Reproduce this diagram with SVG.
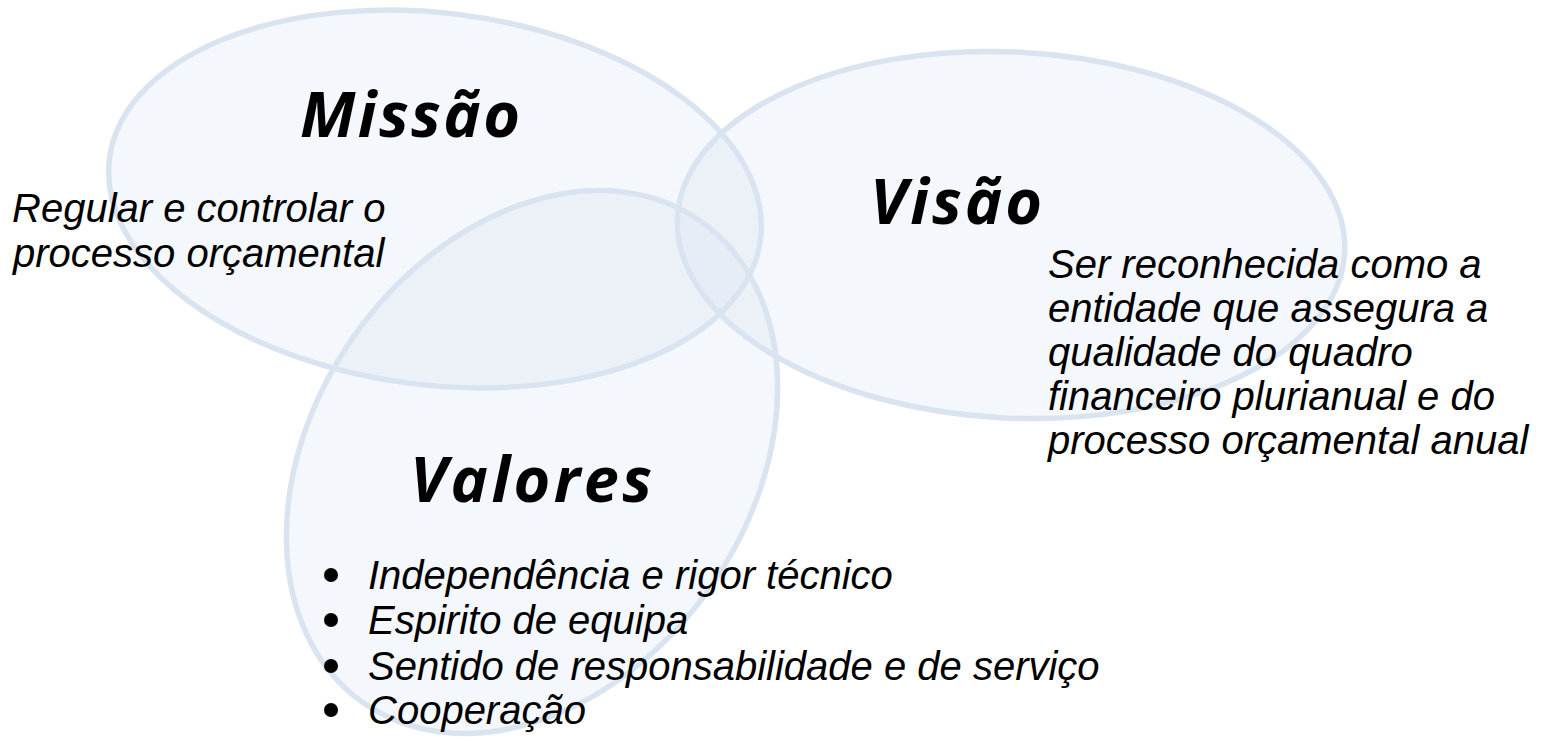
<svg xmlns="http://www.w3.org/2000/svg" width="1548" height="737" viewBox="0 0 1548 737">
  <style>
    .blob { fill: #dce6f2; fill-opacity: 0.3; stroke: #dae4f1; stroke-width: 5.5; }
    .title { font-family: "Open Sans", "Noto Sans", "DejaVu Sans", sans-serif; font-weight: bold; font-style: italic; font-size: 63px; fill: #000000; }
    .body { font-family: "Liberation Sans", Arial, sans-serif; font-style: italic; font-size: 40px; fill: #000000; }
    .dot { fill: #000000; }
  </style>
  <rect x="0" y="0" width="1548" height="737" fill="#ffffff"/>
  <g id="connectors"></g>
  <g id="missao">
    <ellipse class="blob" cx="435" cy="199" rx="328" ry="186" transform="rotate(7 435 199)"/>
  </g>
  <g id="visao">
    <ellipse class="blob" cx="1011" cy="235" rx="334" ry="183" transform="rotate(3 1011 235)"/>
  </g>
  <g id="valores">
    <ellipse class="blob" cx="532" cy="462" rx="218" ry="294" transform="rotate(35 532 462)"/>
  </g>
  <g id="missao-text">
    <text class="title" x="300" y="137" textLength="220" lengthAdjust="spacing">Missão</text>
    <text class="body" x="12" y="222">Regular e controlar o</text>
    <text class="body" x="13" y="267">processo orçamental</text>
  </g>
  <g id="visao-text">
    <text class="title" x="870" y="224" textLength="172" lengthAdjust="spacing">Visão</text>
    <text class="body" x="1048" y="278">Ser reconhecida como a</text>
    <text class="body" x="1048" y="322">entidade que assegura a</text>
    <text class="body" x="1048" y="366">qualidade do quadro</text>
    <text class="body" x="1048" y="410">financeiro plurianual e do</text>
    <text class="body" x="1048" y="454">processo orçamental anual</text>
  </g>
  <g id="valores-text">
    <text class="title" x="410" y="502" textLength="242" lengthAdjust="spacing">Valores</text>
    <circle class="dot" cx="331" cy="575" r="7"/>
    <circle class="dot" cx="331" cy="620" r="7"/>
    <circle class="dot" cx="331" cy="666" r="7"/>
    <circle class="dot" cx="331" cy="710" r="7"/>
    <text class="body" x="368" y="589">Independência e rigor técnico</text>
    <text class="body" x="368" y="634">Espirito de equipa</text>
    <text class="body" x="368" y="680">Sentido de responsabilidade e de serviço</text>
    <text class="body" x="368" y="724">Cooperação</text>
  </g>
</svg>
